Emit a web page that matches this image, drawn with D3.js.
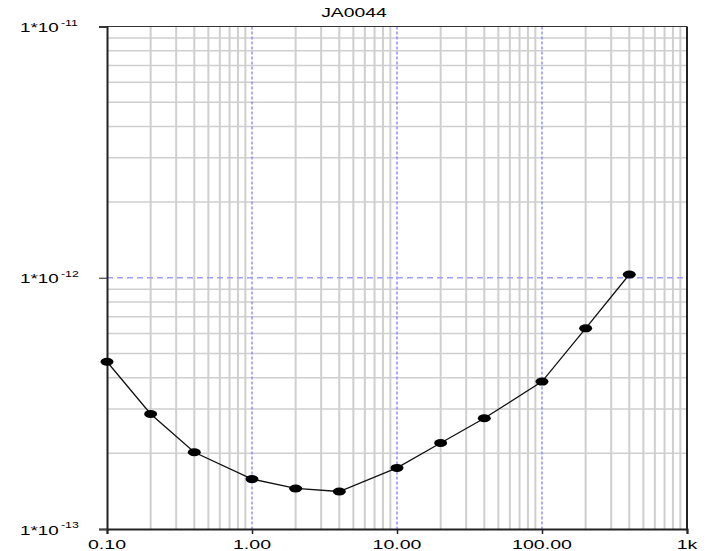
<!DOCTYPE html>
<html>
<head>
<meta charset="utf-8">
<script src="https://cdn.jsdelivr.net/npm/d3@7"></script>
<style>
  body { margin: 0; background: #fff; }
  text { font-family: "Liberation Sans", Arial, sans-serif; fill: #000; }
</style>
</head>
<body>
<div id="chart"></div>
<script>
  // data
  var freqs = [0.1, 0.2, 0.4, 1, 2, 4, 10, 20, 40, 100, 200, 400];
  var values = [4.63e-13, 2.87e-13, 2.02e-13, 1.58e-13, 1.45e-13, 1.41e-13,
                1.75e-13, 2.20e-13, 2.76e-13, 3.86e-13, 6.29e-13, 1.03e-12];
  var xTicks = [0.1, 1, 10, 100, 1000];
  var xTickLabels = ['0.10', '1.00', '10.00', '100.00', '1k'];
  var yTicks = [1e-11, 1e-12, 1e-13];
  var yTickExps = ['-11', '-12', '-13'];
  var title = 'JA0044';

  var W = 708, H = 551;
  // plot area edges (note: "top" is reserved on window, so use pl/pr/pt/pb)
  var pl = 107, pr = 687, pt = 26.5, pb = 529;
  // the original text looks stretched sideways, approx 1.45x
  var stretch = 1.45;

  var svg = d3.select('#chart').append('svg')
    .attr('width', W).attr('height', H);

  var x = d3.scaleLog().domain([0.1, 1000]).range([pl, pr]);
  var y = d3.scaleLog().domain([1e-13, 1e-11]).range([pb, pt]);

  // minor grid (2..9 within each decade)
  var xMinor = [], yMinor = [];
  [0.1, 1, 10, 100].forEach(function (d) {
    for (var k = 2; k <= 9; k++) xMinor.push(d * k);
  });
  [1e-13, 1e-12].forEach(function (d) {
    for (var k = 2; k <= 9; k++) yMinor.push(d * k);
  });

  var grid = svg.append('g');
  grid.selectAll('line.vx').data(xMinor).enter().append('line')
    .attr('x1', function (d) { return x(d); }).attr('x2', function (d) { return x(d); })
    .attr('y1', pt).attr('y2', pb)
    .attr('stroke', '#cfcfcf').attr('stroke-width', 2);
  grid.selectAll('line.hy').data(yMinor).enter().append('line')
    .attr('y1', function (d) { return y(d); }).attr('y2', function (d) { return y(d); })
    .attr('x1', pl).attr('x2', pr)
    .attr('stroke', '#cfcfcf').attr('stroke-width', 1.5);

  // major grid (blue dashed)
  grid.selectAll('line.mx').data(xTicks.slice(1, -1)).enter().append('line')
    .attr('x1', function (d) { return x(d); }).attr('x2', function (d) { return x(d); })
    .attr('y1', pt).attr('y2', pb)
    .attr('stroke', '#7f7fff').attr('stroke-width', 1.3)
    .attr('stroke-dasharray', '3,2');
  grid.selectAll('line.my').data(yTicks.slice(1, -1)).enter().append('line')
    .attr('y1', function (d) { return y(d); }).attr('y2', function (d) { return y(d); })
    .attr('x1', pl).attr('x2', pr)
    .attr('stroke', '#a0a0ff').attr('stroke-width', 1.3)
    .attr('stroke-dasharray', '6,4');

  // frame
  svg.append('line').attr('x1', pl).attr('x2', pr).attr('y1', pt).attr('y2', pt)
    .attr('stroke', '#333').attr('stroke-width', 1.2);
  svg.append('line').attr('x1', pr).attr('x2', pr).attr('y1', pt).attr('y2', pb)
    .attr('stroke', '#222').attr('stroke-width', 2);

  // axes
  var xAxis = svg.append('g').attr('transform', 'translate(0,' + pb + ')')
    .call(d3.axisBottom(x).tickValues(xTicks).tickSize(5).tickFormat(''));
  xAxis.select('.domain').attr('stroke', '#222').attr('stroke-width', 2);
  xAxis.selectAll('.tick line').attr('stroke', '#222').attr('stroke-width', 1.5);

  var yAxis = svg.append('g').attr('transform', 'translate(' + pl + ',0)')
    .call(d3.axisLeft(y).tickValues(yTicks).tickSize(8).tickFormat(''));
  yAxis.select('.domain').attr('stroke', '#222').attr('stroke-width', 2);
  yAxis.selectAll('.tick line').attr('stroke', '#444').attr('stroke-width', 1.2);

  // x tick labels (stretched horizontally around the tick)
  svg.selectAll('text.xl').data(xTicks).enter().append('text')
    .attr('transform', function (d) { return 'translate(' + x(d) + ',549) scale(' + stretch + ',1)'; })
    .attr('text-anchor', 'middle')
    .attr('font-size', 13.5)
    .text(function (d, i) { return xTickLabels[i]; });

  // y tick labels: 1*10^exp
  var yl = svg.selectAll('text.yl').data(yTicks).enter().append('text')
    .attr('transform', function (d) { return 'translate(20,' + (y(d) + 5.5) + ') scale(' + stretch + ',1)'; })
    .attr('font-size', 13);
  yl.append('tspan').text('1*10');
  yl.append('tspan').attr('dx', 1.5).attr('dy', -6.5).attr('font-size', 8.5)
    .text(function (d, i) { return yTickExps[i]; });

  // title
  svg.append('text')
    .attr('transform', 'translate(354,17) scale(' + (stretch + 0.1) + ',1)')
    .attr('text-anchor', 'middle').attr('font-size', 12.5)
    .text(title);

  // series
  var pts = freqs.map(function (f, i) { return [f, values[i]]; });
  svg.append('path').datum(pts)
    .attr('fill', 'none').attr('stroke', '#111').attr('stroke-width', 1.3)
    .attr('d', d3.line().x(function (d) { return x(d[0]); }).y(function (d) { return y(d[1]); }));
  svg.selectAll('ellipse.pt').data(pts).enter().append('ellipse')
    .attr('cx', function (d) { return x(d[0]); })
    .attr('cy', function (d) { return y(d[1]); })
    .attr('rx', 6.5).attr('ry', 4)
    .attr('fill', '#000');
</script>
</body>
</html>
